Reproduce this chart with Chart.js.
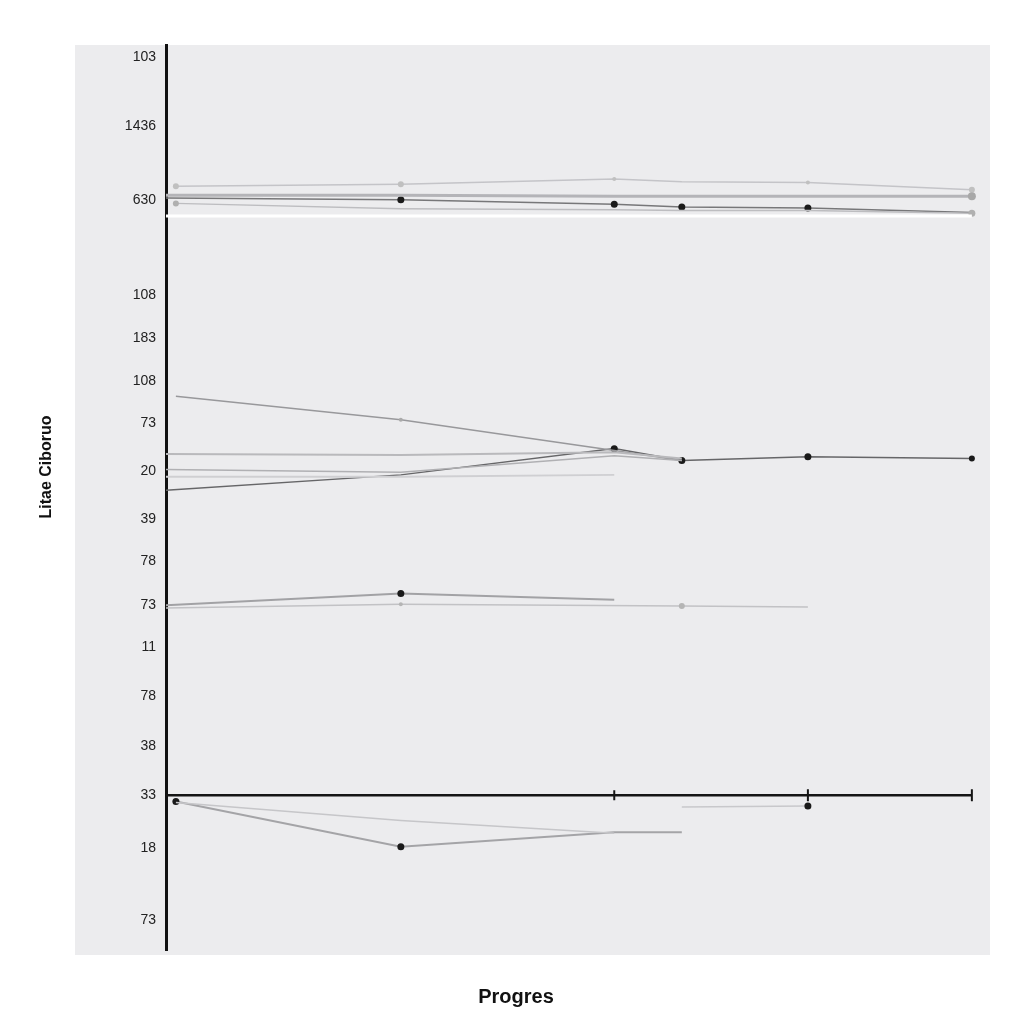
<!DOCTYPE html>
<html>
<head>
<meta charset="utf-8">
<script src="https://cdn.jsdelivr.net/npm/chart.js@4.4.0/dist/chart.umd.min.js"></script>
<style>
  html, body { margin: 0; padding: 0; background: #fff; }
  #wrap { width: 1024px; height: 1024px; position: relative; }
</style>
</head>
<body>
<div id="wrap"><canvas id="chart"></canvas></div>
<script>
// x positions of the progress steps (0 = axis edge)
const xCats = [0, 1.2, 28.5, 54.4, 62.6, 77.9, 97.8];

// y tick labels as they appear, with their positions on a 0-100 scale
const yTickLabels = ['103', '1436', '630', '108', '183', '108', '73', '20', '39', '78', '73', '11', '78', '38', '33', '18', '73'];
const yTickPos = [98.7, 91.0, 82.9, 72.4, 67.6, 62.9, 58.2, 52.9, 47.6, 43.0, 38.1, 33.5, 28.0, 22.5, 17.1, 11.3, 3.3];

// top cluster
const topThick = [83.4, 83.4, 83.4, 83.3, 83.3, 83.3, 83.3];
const topDark = [83.1, null, 82.9, 82.4, 82.1, 82.0, 81.5];
const topLight = [null, 84.4, 84.6, 85.2, 84.9, 84.8, 84.0];
const topLow = [null, 82.5, 81.9, 81.8, 81.7, 81.7, 81.4];
const topWhite = [81.1, null, 81.1, 81.1, 81.1, 81.1, 81.1];

// middle cluster
const midDark = [50.8, null, 52.5, 55.4, 54.1, 54.5, 54.3];
const midFall = [null, 61.2, 58.6, 55.2, 54.1, null, null];
const midFlat = [54.8, null, 54.7, 55.0, 54.3, null, null];
const midRise = [53.1, null, 52.8, 54.6, 54.1, null, null];
const midFaint = [52.3, null, 52.3, 52.5, null, null, null];

// lower cluster
const lowDark = [38.1, null, 39.4, 38.7, null, null, null];
const lowLight = [37.8, null, 38.2, null, 38.0, 37.9, null];

// bottom
const baseLine = [17.1, null, null, 17.1, null, 17.1, 17.1];
const botDark = [null, 16.4, 11.4, 13.0, 13.0, null, null];
const botLight = [null, 16.3, 14.3, 12.9, null, null, null];
const botPoint = [null, null, null, null, 15.8, 15.9, null];

const FONT = '"Liberation Sans", Arial, sans-serif';

function mk(vals, opts) {
  return Object.assign({
    data: xCats.map((x, i) => ({ x: x, y: vals[i] })),
    spanGaps: true,
    tension: 0,
    fill: false,
    pointBorderWidth: 0
  }, opts);
}

const bgPlugin = {
  id: 'bg',
  beforeDraw(chart) {
    const { ctx, chartArea: a } = chart;
    ctx.save();
    ctx.fillStyle = '#ececee';
    ctx.fillRect(a.left - 91, a.top, a.right - a.left + 91, a.bottom - a.top + 5);
    ctx.restore();
  },
  afterDraw(chart) {
    const { ctx, chartArea: a } = chart;
    ctx.save();
    ctx.fillStyle = '#111';
    ctx.textAlign = 'center';
    ctx.textBaseline = 'middle';
    ctx.font = 'bold 20px ' + FONT;
    ctx.fillText('Progres', 516, a.bottom + 47);
    ctx.translate(47, 467);
    ctx.rotate(-Math.PI / 2);
    ctx.font = 'bold 16px ' + FONT;
    ctx.fillText('Litae Ciboruo', 0, 0);
    ctx.restore();
  }
};

new Chart(document.getElementById('chart'), {
  type: 'line',
  data: {
    datasets: [
      mk(topWhite, { borderColor: '#ffffff', borderWidth: 3, pointRadius: 0 }),
      mk(topThick, { borderColor: '#b4b4b8', borderWidth: 3, pointRadius: [0, 0, 0, 0, 0, 0, 4], pointBackgroundColor: '#a8a8a8' }),
      mk(topLight, { borderColor: '#c4c4c8', borderWidth: 1.5, pointRadius: [0, 3, 3, 2, 0, 2, 3], pointBackgroundColor: '#c0c0c0' }),
      mk(topLow, { borderColor: '#bdbdc0', borderWidth: 1.5, pointRadius: [0, 3, 0, 0, 0, 0, 3.5], pointBackgroundColor: '#b0b0b0' }),
      mk(topDark, { borderColor: '#777779', borderWidth: 1.5, pointRadius: [0, 0, 3.5, 3.5, 3.5, 3.5, 0], pointBackgroundColor: '#1a1a1a' }),

      mk(midFaint, { borderColor: '#cfcfd2', borderWidth: 2, pointRadius: 0 }),
      mk(midFlat, { borderColor: '#b9b9bc', borderWidth: 2, pointRadius: 0 }),
      mk(midRise, { borderColor: '#b0b0b3', borderWidth: 1.5, pointRadius: 0 }),
      mk(midFall, { borderColor: '#98989b', borderWidth: 1.5, pointRadius: [0, 0, 2, 0, 0, 0, 0], pointBackgroundColor: '#aaa' }),
      mk(midDark, { borderColor: '#666668', borderWidth: 1.5, pointRadius: [0, 0, 0, 3.5, 3.5, 3.5, 3], pointBackgroundColor: '#1a1a1a' }),

      mk(lowLight, { borderColor: '#c2c2c5', borderWidth: 1.5, pointRadius: [0, 0, 2, 0, 3, 0, 0], pointBackgroundColor: '#b5b5b5' }),
      mk(lowDark, { borderColor: '#a2a2a5', borderWidth: 2, pointRadius: [0, 0, 3.5, 0, 0, 0, 0], pointBackgroundColor: '#1a1a1a' }),

      mk(baseLine, { borderColor: '#151515', borderWidth: 2.5, pointStyle: 'line', rotation: 90,
        pointRadius: [0, 0, 0, 5, 0, 6, 6], pointBorderWidth: 2, pointBorderColor: '#151515' }),
      mk(botLight, { borderColor: '#c6c6c9', borderWidth: 1.5, pointRadius: 0 }),
      mk(botDark, { borderColor: '#a4a4a7', borderWidth: 2, pointRadius: [0, 3.5, 3.5, 0, 0, 0, 0], pointBackgroundColor: '#1a1a1a' }),
      mk(botPoint, { borderColor: '#c8c8cb', borderWidth: 1.5, pointRadius: [0, 0, 0, 0, 0, 3.5, 0], pointBackgroundColor: '#1a1a1a' })
    ]
  },
  options: {
    responsive: true,
    maintainAspectRatio: false,
    animation: false,
    layout: { padding: { top: 45, right: 34, bottom: 74, left: 0 } },
    scales: {
      x: {
        type: 'linear',
        min: 0,
        max: 100,
        display: false
      },
      y: {
        type: 'linear',
        min: 0,
        max: 100,
        afterFit: (scale) => { scale.width = 166; },
        afterBuildTicks: (scale) => {
          scale.ticks = yTickPos.map(v => ({ value: v }));
        },
        grid: { display: false, drawTicks: false },
        border: { display: true, color: '#111', width: 3 },
        ticks: {
          padding: 10,
          color: '#222',
          font: { family: FONT, size: 14 },
          callback: (value, index) => yTickLabels[index]
        }
      }
    },
    plugins: {
      legend: { display: false },
      tooltip: { enabled: false }
    }
  },
  plugins: [bgPlugin]
});
</script>
</body>
</html>
